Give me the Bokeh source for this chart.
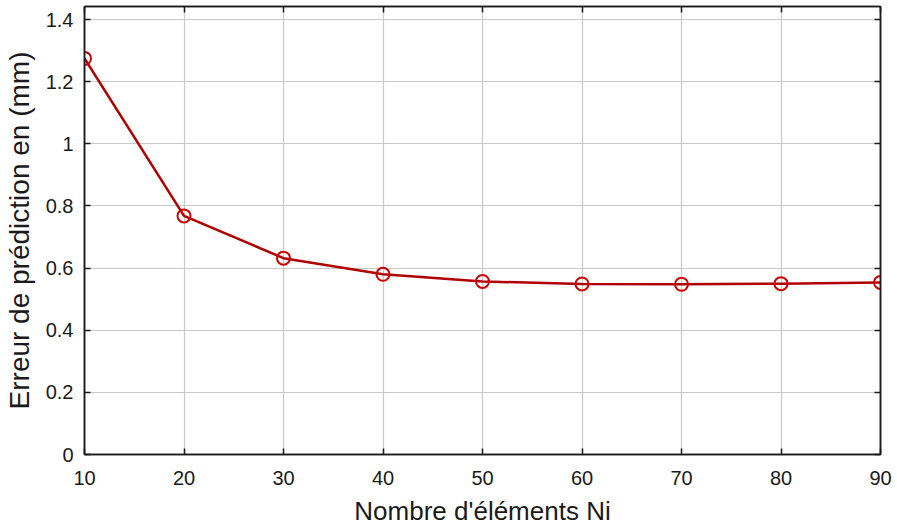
from bokeh.plotting import figure
from bokeh.models import LinearAxis, FixedTicker, Range1d
from bokeh.embed import file_html
from bokeh.resources import INLINE

# Data
n_elements = [10, 20, 30, 40, 50, 60, 70, 80, 90]
error_mm = [1.275, 0.768, 0.632, 0.580, 0.557, 0.549, 0.548, 0.550, 0.554]

x_ticks = [10, 20, 30, 40, 50, 60, 70, 80, 90]
y_ticks = [0, 0.2, 0.4, 0.6, 0.8, 1.0, 1.2, 1.4]
y_tick_labels = ["0", "0.2", "0.4", "0.6", "0.8", "1", "1.2", "1.4"]

FONT = "Liberation Sans"
INK = "#1a1a1a"

p = figure(width=897, height=528, output_backend="svg", toolbar_location=None,
           x_range=Range1d(10, 90), y_range=Range1d(0, 1.442),
           min_border_left=84, min_border_right=17, min_border_top=6,
           min_border_bottom=73)

p.outline_line_color = INK
p.outline_line_width = 1.5

for ax in (p.xaxis[0], p.yaxis[0]):
    ax.axis_line_color = INK
    ax.axis_line_width = 1.5
    ax.major_tick_in = 6
    ax.major_tick_out = 0
    ax.major_tick_line_color = INK
    ax.major_tick_line_width = 1.5
    ax.minor_tick_line_color = None
    ax.major_label_text_font = FONT
    ax.major_label_text_font_size = "20px"
    ax.major_label_text_color = INK
    ax.axis_label_text_font = FONT
    ax.axis_label_text_font_style = "normal"
    ax.axis_label_text_color = INK

p.xaxis[0].axis_label_text_font_size = "26px"
p.yaxis[0].axis_label_text_font_size = "28px"
p.xaxis[0].ticker = FixedTicker(ticks=x_ticks)
p.yaxis[0].ticker = FixedTicker(ticks=y_ticks)
p.yaxis[0].major_label_overrides = {t: l for t, l in zip(y_ticks, y_tick_labels)}
p.xaxis[0].axis_label = "Nombre d'éléments Ni"
p.yaxis[0].axis_label = "Erreur de prédiction en (mm)"
p.xaxis[0].major_label_standoff = 16
p.yaxis[0].major_label_standoff = 11
p.xaxis[0].axis_label_standoff = 8
p.yaxis[0].axis_label_standoff = 8

# box axes (top/right) with inward ticks, no labels
top = LinearAxis(ticker=FixedTicker(ticks=x_ticks))
right = LinearAxis(ticker=FixedTicker(ticks=y_ticks))
for ax, ticks in ((top, x_ticks), (right, y_ticks)):
    ax.axis_line_color = INK
    ax.axis_line_width = 1.5
    ax.major_tick_in = 6
    ax.major_tick_out = 0
    ax.major_tick_line_color = INK
    ax.major_tick_line_width = 1.5
    ax.minor_tick_line_color = None
    ax.major_label_overrides = {t: "" for t in ticks}
    ax.major_label_standoff = 0
p.add_layout(top, "above")
p.add_layout(right, "right")

p.xgrid.ticker = FixedTicker(ticks=x_ticks)
p.ygrid.ticker = FixedTicker(ticks=y_ticks)
for g in (p.xgrid[0], p.ygrid[0]):
    g.grid_line_color = "#c8c8c8"
    g.grid_line_width = 1.2

p.line(n_elements, error_mm, line_color="#b00000", line_width=2.5)
p.scatter(n_elements, error_mm, marker="circle", size=13, fill_color=None,
          line_color="#d00000", line_width=2)

open("out.html", "w").write(file_html(p, INLINE))
